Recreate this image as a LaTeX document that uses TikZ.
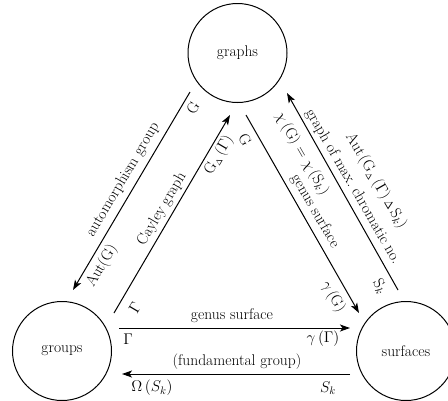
\documentclass[tikz,border=0pt]{standalone}
\usepackage{fontspec}
\usepackage{amssymb}
\usepackage{fix-cm}
\usetikzlibrary{arrows.meta}
\begin{document}
\begin{tikzpicture}[x=1pt,y=-1pt,
  font=\fontsize{15.5}{18}\selectfont,
  circ/.style={circle,draw,line width=1pt,minimum size=99pt,inner sep=0pt},
  arr/.style={line width=1pt,-{Stealth[length=10pt,width=7pt,inset=2.5pt]}},
  lab/.style={inner sep=0pt},
  up/.style={lab,rotate=59.5},
  dn/.style={lab,rotate=-60}]
\useasboundingbox (0,0) rectangle (448,400);
% circles
\node[circ] (graphs) at (237.5,53) {graphs};
\node[circ] (groups) at (62,351) {groups};
\node[circ] (surfaces) at (406,351) {surfaces};
% connector end points
\coordinate (a1) at (190,92);   \coordinate (a2) at (73,290);
\coordinate (b1) at (114,313);  \coordinate (b2) at (230,115);
\coordinate (c1) at (246,115);  \coordinate (c2) at (359,313);
\coordinate (d1) at (398,290);  \coordinate (d2) at (287,93);
\coordinate (e1) at (119,328);  \coordinate (e2) at (350,328);
\coordinate (f1) at (350,374);  \coordinate (f2) at (122,374);
% connectors
\draw[arr] (a1) -- (a2);
\draw[arr] (b1) -- (b2);
\draw[arr] (c1) -- (c2);
\draw[arr] (d1) -- (d2);
\draw[arr] (e1) -- (e2);
\draw[arr] (f1) -- (f2);
% labels of line a
\node[up] (la1) at (123,180) {automorphism group};
\node[up] (la2) at (102,266) {Aut(G)};
\node[up] (la3) at (193,108) {G};
% labels of line b
\node[up] (lb1) at (162,209) {Cayley graph};
\node[up] (lb2) at (135,308) {$\Gamma$};
\node[up] (lb3) at (219,155) {G$_{\scriptscriptstyle\Delta}$\,($\Gamma$)};
% labels of line c
\node[dn] (lc1) at (245,140) {G};
\node[dn] (lc2) at (302,154) {$\chi$\,(G) = $\chi$\,(S$_k$)};
\node[dn] (lc3) at (315,211) {genus surface};
\node[dn] (lc4) at (333,297) {$\gamma$\,(G)};
% labels of line d
\node[dn] (ld1) at (353,187) {graph of max.\ chromatic no.};
\node[dn] (ld2) at (376,181) {Aut\,(G$_{\scriptscriptstyle\Delta}$\,($\Gamma$)\,$\scriptstyle\Delta$\,S$_k$)};
\node[dn] (ld3) at (380,287) {S$_k$};
% labels of line e
\node[lab] (le1) at (232,316) {genus surface};
\node[lab] (le2) at (128,339) {$\Gamma$};
\node[lab] (le3) at (323,339) {$\gamma\,(\Gamma)$};
% labels of line f
\node[lab] (lf1) at (237,362) {(fundamental group)};
\node[lab] (lf2) at (152,388) {$\Omega\,(S_k)$};
\node[lab] (lf3) at (328,388) {$S_k$};
\end{tikzpicture}
\end{document}
